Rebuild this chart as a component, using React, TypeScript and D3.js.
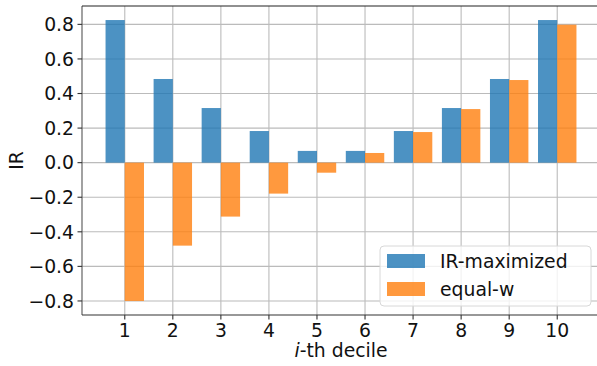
import React from "react";
import * as d3 from "d3";

// deciles and the two series
const deciles = [1, 2, 3, 4, 5, 6, 7, 8, 9, 10];
const irMaximized = [0.825, 0.484, 0.316, 0.183, 0.068, 0.068, 0.183, 0.316, 0.484, 0.825];
const equalW = [-0.8, -0.48, -0.312, -0.179, -0.058, 0.056, 0.177, 0.31, 0.478, 0.798];
const yTicks = [-0.8, -0.6, -0.4, -0.2, 0.0, 0.2, 0.4, 0.6, 0.8];
const seriesNames = ["IR-maximized", "equal-w"];

const W = 597;
const H = 366;
const FONT = "DejaVu Sans, sans-serif";
const FS = 18.8;
const BLUE = "#1f77b4";
const ORANGE = "#ff7f0e";

const App = () => {
  const margin = { left: 82, top: 6, right: 600, bottom: 315 };
  const barW = 0.4;

  // matplotlib style 5% margins around the bars
  const xMin = deciles[0] - barW; // left edge of first blue bar
  const xMax = deciles[deciles.length - 1] + barW; // right edge of last orange bar
  const xPad = (xMax - xMin) * 0.05;
  const x = d3.scaleLinear().domain([xMin - xPad, xMax + xPad]).range([margin.left, margin.right]);

  const yLo = d3.min(equalW) as number;
  const yHi = d3.max(irMaximized) as number;
  const yPad = (yHi - yLo) * 0.05;
  const y = d3.scaleLinear().domain([yLo - yPad, yHi + yPad]).range([margin.bottom, margin.top]);

  const fmt = d3.format(".1f");

  const bar = (v: number, cx: number, color: string, key: string) => {
    const y0 = y(0);
    const yv = y(v);
    return (
      <rect
        key={key}
        x={x(cx - barW / 2)}
        width={x(cx + barW / 2) - x(cx - barW / 2)}
        y={Math.min(y0, yv)}
        height={Math.abs(yv - y0)}
        fill={color}
        fillOpacity={0.8}
      />
    );
  };

  const legX = 380;
  const legY = 246;

  return (
    <svg
      width={W}
      height={H}
      style={{ position: "absolute", left: 0, top: 0, background: "#fff" }}
      fontFamily={FONT}
    >
      <rect x={0} y={0} width={W} height={H} fill="#fff" />
      <defs>
        <clipPath id="plot">
          <rect x={margin.left} y={margin.top} width={margin.right - margin.left} height={margin.bottom - margin.top} />
        </clipPath>
      </defs>

      {/* grid */}
      <g clipPath="url(#plot)" stroke="#b0b0b0" strokeWidth={1.1} opacity={0.85}>
        {deciles.map((d) => (
          <line key={"gx" + d} x1={x(d)} x2={x(d)} y1={margin.top} y2={margin.bottom} />
        ))}
        {yTicks.map((t) => (
          <line key={"gy" + t} x1={margin.left} x2={margin.right} y1={y(t)} y2={y(t)} />
        ))}
      </g>

      {/* bars */}
      <g clipPath="url(#plot)">
        {deciles.map((d, i) => bar(irMaximized[i], d - barW / 2, BLUE, "b" + d))}
        {deciles.map((d, i) => bar(equalW[i], d + barW / 2, ORANGE, "o" + d))}
      </g>

      {/* spines */}
      <g stroke="#222" strokeWidth={1.1}>
        <line x1={margin.left} x2={margin.left} y1={margin.top} y2={margin.bottom} stroke="#555" />
        <line x1={margin.left} x2={margin.right} y1={margin.bottom} y2={margin.bottom} stroke="#333" />
        <line x1={margin.left} x2={margin.right} y1={margin.top} y2={margin.top} />
      </g>

      {/* y ticks */}
      <g fontSize={FS} fill="#111">
        {yTicks.map((t) => (
          <g key={"yt" + t}>
            <line x1={margin.left - 4.5} x2={margin.left} y1={y(t)} y2={y(t)} stroke="#333" strokeWidth={1.1} />
            <text x={margin.left - 8} y={y(t)} dy="0.36em" textAnchor="end">
              {fmt(t)}
            </text>
          </g>
        ))}
      </g>

      {/* x ticks */}
      <g fontSize={FS} fill="#111">
        {deciles.map((d) => (
          <g key={"xt" + d}>
            <line x1={x(d)} x2={x(d)} y1={margin.bottom} y2={margin.bottom + 4.5} stroke="#333" strokeWidth={1.1} />
            <text x={x(d)} y={margin.bottom + 21.5} textAnchor="middle">
              {d}
            </text>
          </g>
        ))}
      </g>

      {/* axis labels */}
      <text x={(margin.left + margin.right) / 2} y={357} textAnchor="middle" fontSize={FS} fill="#111">
        <tspan fontStyle="italic">i</tspan>-th decile
      </text>
      <text
        transform={`translate(23, ${(margin.top + margin.bottom) / 2}) rotate(-90)`}
        textAnchor="middle"
        fontSize={FS}
        fill="#111"
      >
        IR
      </text>

      {/* legend */}
      <g>
        <rect x={legX} y={legY} width={211} height={60} rx={4} fill="#fff" fillOpacity={0.8} stroke="#d8d8d8" strokeWidth={1} />
        {seriesNames.map((name, i) => (
          <g key={name}>
            <rect x={legX + 7} y={legY + 8 + i * 28} width={38} height={14} fill={i === 0 ? BLUE : ORANGE} fillOpacity={0.8} />
            <text x={legX + 60} y={legY + 21.5 + i * 28} fontSize={FS} fill="#111">
              {name}
            </text>
          </g>
        ))}
      </g>
    </svg>
  );
};

export default App;
